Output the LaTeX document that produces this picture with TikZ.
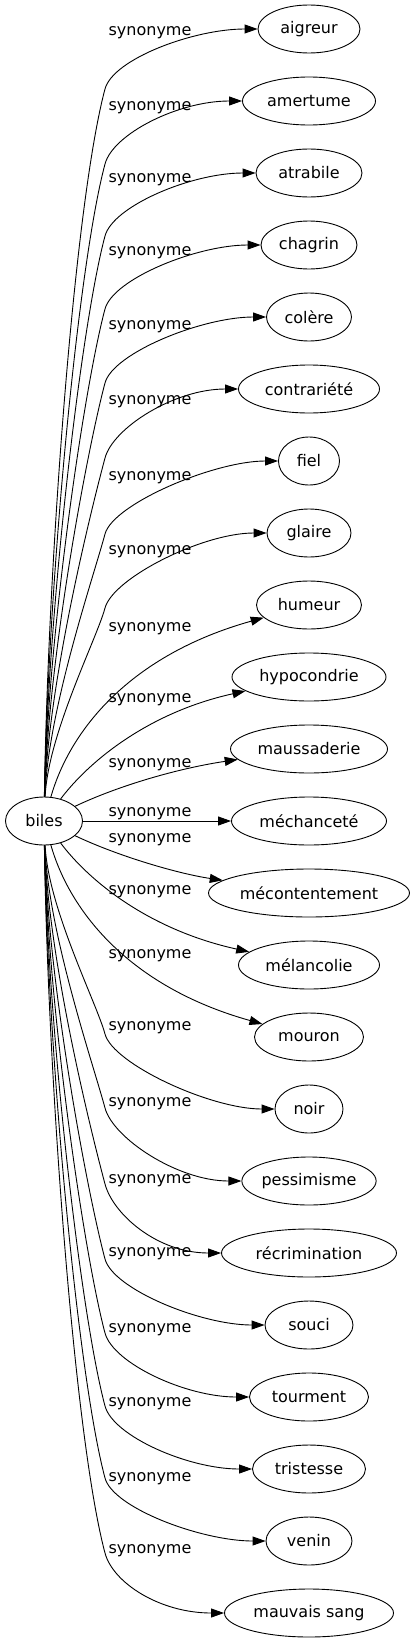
\documentclass[tikz,border=0pt]{standalone}
\usepackage{fontspec}
\setmainfont{DejaVu Sans}
\usetikzlibrary{shapes.geometric,arrows.meta,calc}
\tikzset{
  tn/.style={draw, ellipse, line width=0.9pt, inner sep=0pt, minimum height=48pt, font=\fontsize{16}{19}\selectfont},
  lbl/.style={inner sep=0pt, font=\fontsize{16}{19}\selectfont},
  edge/.style={draw, line width=0.9pt, -{Triangle[length=13pt,width=9pt]}}
}
\begin{document}
\begin{tikzpicture}[x=1pt,y=-1pt]
\useasboundingbox (0,0) rectangle (415,1643);
\node[tn, minimum width=77pt] (biles) at (44,821) {biles};
\node[tn, minimum width=102pt] (n0) at (309,29) {aigreur};
\node[tn, minimum width=133pt] (n1) at (309,101) {amertume};
\node[tn, minimum width=106pt] (n2) at (309,173) {atrabile};
\node[tn, minimum width=96pt] (n3) at (309,245) {chagrin};
\node[tn, minimum width=85pt] (n4) at (309,317) {colère};
\node[tn, minimum width=141pt] (n5) at (309,389) {contrariété};
\node[tn, minimum width=61pt] (n6) at (309,461) {fiel};
\node[tn, minimum width=84pt] (n7) at (309,533) {glaire};
\node[tn, minimum width=105pt] (n8) at (309,605) {humeur};
\node[tn, minimum width=154pt] (n9) at (309,677) {hypocondrie};
\node[tn, minimum width=157pt] (n10) at (309,749) {maussaderie};
\node[tn, minimum width=155pt] (n11) at (309,821) {méchanceté};
\node[tn, minimum width=201pt] (n12) at (309,893) {mécontentement};
\node[tn, minimum width=141pt] (n13) at (309,965) {mélancolie};
\node[tn, minimum width=109pt] (n14) at (309,1037) {mouron};
\node[tn, minimum width=68pt] (n15) at (309,1109) {noir};
\node[tn, minimum width=132pt] (n16) at (309,1181) {pessimisme};
\node[tn, minimum width=175pt] (n17) at (309,1253) {récrimination};
\node[tn, minimum width=88pt] (n18) at (309,1325) {souci};
\node[tn, minimum width=119pt] (n19) at (309,1397) {tourment};
\node[tn, minimum width=113pt] (n20) at (309,1469) {tristesse};
\node[tn, minimum width=86pt] (n21) at (309,1541) {venin};
\node[tn, minimum width=169pt] (n22) at (309,1613) {mauvais sang};
% labels
\foreach \ly [count=\k from 0] in {29,104,176,249,323,398,474,548,625,696,761,810,836,888,952,1024,1100,1177,1250,1326,1400,1475,1547}
  \node[lbl] (l\k) at (150,{\ly+4}) {synonyme};
% upper far edges
\foreach \n/\ky in {n0/89, n1/164, n2/236, n3/309, n4/383, n5/458, n6/534, n7/608} {
  \pgfmathsetmacro\d{797-\ky}
  \coordinate (k) at (105,\ky);
  \draw[edge] (biles) .. controls (48,{797-\d/3}) and ({105-0.043*\d},{\ky+0.161*\d}) .. (k)
     .. controls (113,{\ky-30}) and ($(\n.west)+(-64,0)$) .. (\n);
}
% lower far edges
\foreach \n/\ky in {n15/1034, n16/1108, n17/1184, n18/1259, n19/1333, n20/1406, n21/1478, n22/1553} {
  \pgfmathsetmacro\d{\ky-845}
  \coordinate (k) at (105,\ky);
  \draw[edge] (biles) .. controls (48,{845+\d/3}) and ({105-0.043*\d},{\ky-0.161*\d}) .. (k)
     .. controls (113,{\ky+30}) and ($(\n.west)+(-64,0)$) .. (\n);
}
% middle edges
\draw[edge] (biles) .. controls (70,730) and (130,655) .. (n8);
\draw[edge] (biles) .. controls (90,760) and (150,712) .. (n9);
\draw[edge] (biles) .. controls (120,785) and (180,768) .. (n10);
\draw[edge] (biles) -- (n11);
\draw[edge] (biles) .. controls (120,857) and (180,874) .. (n12);
\draw[edge] (biles) .. controls (90,882) and (150,930) .. (n13);
\draw[edge] (biles) .. controls (70,912) and (130,987) .. (n14);
\end{tikzpicture}
\end{document}
